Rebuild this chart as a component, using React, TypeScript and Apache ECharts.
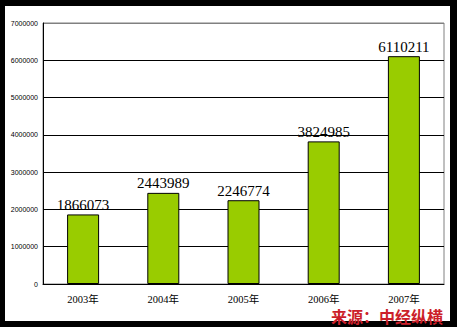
import React, { useEffect, useRef } from "react";
import * as echarts from "echarts";

const categories = ["2003年", "2004年", "2005年", "2006年", "2007年"];
const values = [1866073, 2443989, 2246774, 3824985, 6110211];
const sourceText = "来源：中经纵横";

export default function App() {
  const ref = useRef<HTMLDivElement>(null);
  useEffect(() => {
    if (!ref.current) return;
    const chart = echarts.init(ref.current, null, { renderer: "svg" });
    chart.setOption({
      animation: false,
      backgroundColor: "#000000",
      graphic: [
        {
          type: "rect",
          z: -10,
          shape: { x: 5, y: 6, width: 445, height: 315 },
          style: { fill: "#ffffff" },
        },
        {
          type: "text",
          z: 100,
          x: 331,
          y: 309,
          style: {
            text: sourceText,
            fill: "#CC1F2A",
            font: "bold 16px 'Noto Sans CJK SC'",
            lineHeight: 14,
            textShadowColor: "#5a0a0a",
            textShadowOffsetX: 1,
            textShadowOffsetY: 1,
            textShadowBlur: 0,
          },
        },
      ],
      grid: {
        left: 43,
        right: 13,
        top: 23,
        bottom: 43,
        show: true,
        borderColor: "#808080",
        borderWidth: 1,
      },
      xAxis: {
        type: "category",
        data: categories,
        axisLine: { lineStyle: { color: "#000", width: 1 } },
        axisTick: { inside: true, length: 4, lineStyle: { color: "#000" } },
        axisLabel: {
          color: "#000",
          fontSize: 10.5,
          lineHeight: 10,
          fontFamily: "'Liberation Serif', 'Noto Sans CJK SC'",
          margin: 10,
        },
      },
      yAxis: {
        type: "value",
        min: 0,
        max: 7000000,
        interval: 1000000,
        axisLine: { show: true, lineStyle: { color: "#000", width: 1 } },
        axisTick: { show: false },
        axisLabel: {
          color: "#000",
          fontSize: 7,
          fontFamily: "'Liberation Sans', Arial",
          margin: 5,
          formatter: (v: number) => String(v),
        },
        splitLine: {
          lineStyle: {
            color: ["#000", "#000", "#000", "#000", "#000", "#000", "#000", "#808080"],
            width: 1,
          },
        },
      },
      series: [
        {
          type: "bar",
          data: values,
          barWidth: 32,
          itemStyle: { color: "#99CC00", borderColor: "#000", borderWidth: 1 },
          label: {
            show: true,
            position: "top",
            distance: 2,
            color: "#000",
            fontSize: 15,
            fontFamily: "'Liberation Serif', 'Times New Roman', serif",
          },
        },
      ],
    });
    return () => chart.dispose();
  }, []);
  return (
    <div
      ref={ref}
      style={{ position: "fixed", left: 0, top: 0, width: 457, height: 327 }}
    />
  );
}
